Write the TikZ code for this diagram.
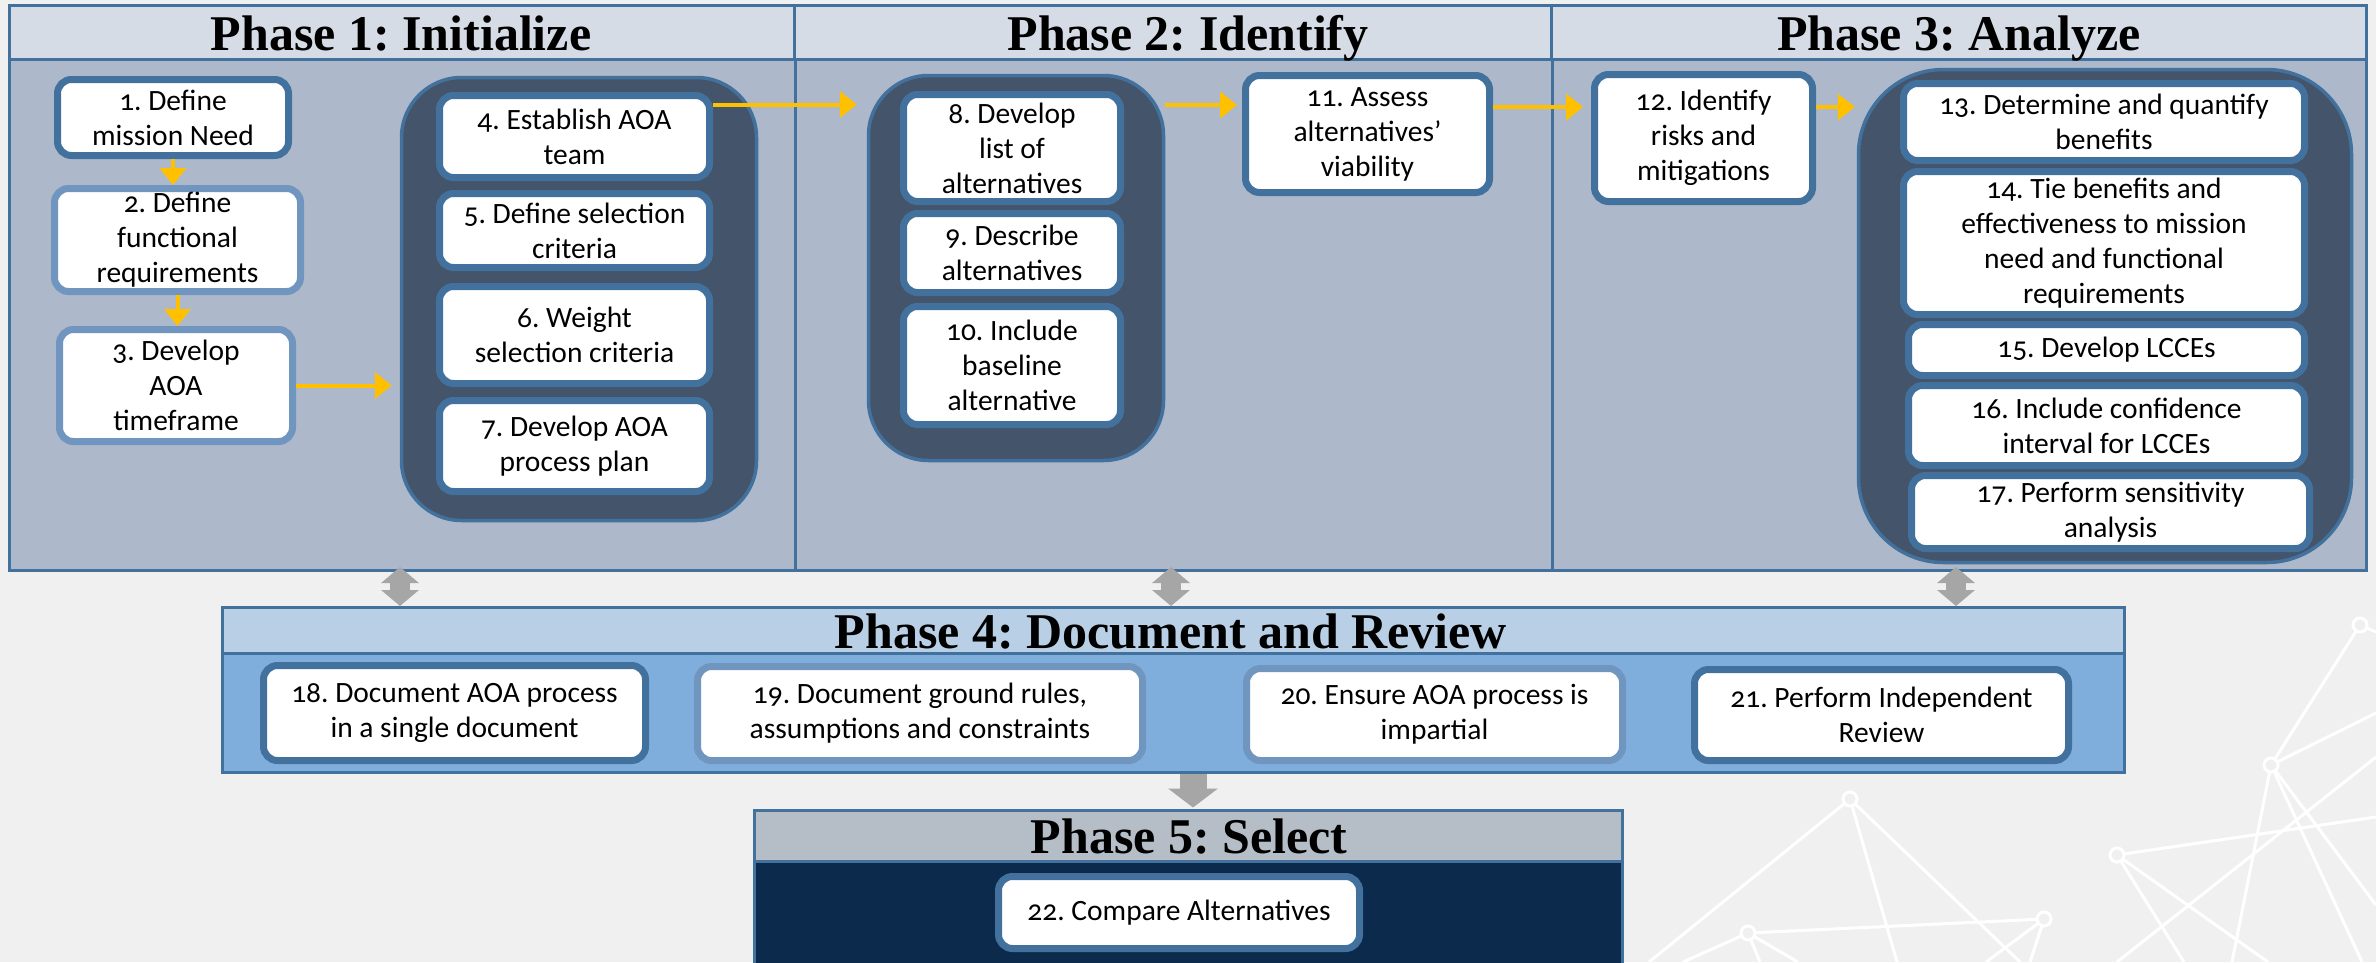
\documentclass[tikz,border=0pt]{standalone}
\usepackage{fontspec}
\usetikzlibrary{arrows.meta,calc}
\newfontfamily\bodyfont[Numbers=OldStyle]{Carlito}
\newfontfamily\hdrfont{Liberation Serif}
\definecolor{bgc}{HTML}{F0F0F0}
\definecolor{hdrc}{HTML}{D6DCE5}
\definecolor{bodyc}{HTML}{ADB9CA}
\definecolor{edge}{HTML}{41719C}
\definecolor{lightedge}{HTML}{7096C0}
\definecolor{grp}{HTML}{44546A}
\definecolor{yel}{HTML}{FFC000}
\definecolor{grayc}{HTML}{A6A6A6}
\definecolor{pfhdr}{HTML}{B8CFE6}
\definecolor{pfbody}{HTML}{7FAEDC}
\definecolor{pvhdr}{HTML}{B5BDC7}
\definecolor{pvbody}{HTML}{0B2A4C}
\frenchspacing
\begin{document}
\begin{tikzpicture}[x=1pt,y=-1pt,
  stepbox/.style={draw=edge, line width=7pt, fill=white, rounded corners=14pt,
    align=center, inner sep=0pt, text=black,
    font={\bodyfont\fontsize{29.5}{35}\selectfont}},
  lightbox/.style={stepbox, draw=lightedge},
  group/.style={draw=edge, line width=3.5pt, fill=grp, inner sep=0pt},
  panel/.style={draw=edge, line width=3pt, inner sep=0pt},
  ptitle/.style={anchor=base, inner sep=0pt, text=black,
    font={\hdrfont\bfseries\fontsize{50}{55}\selectfont\frenchspacing}},
  ya/.style={draw=yel, line width=4pt, -{Triangle[length=17pt,width=26pt]}},
  garrow/.style={draw=grayc, line width=20pt,
    {Triangle[length=16pt,width=37pt]}-{Triangle[length=16pt,width=37pt]}},
  darrow/.style={draw=grayc, line width=27pt, -{Triangle[length=19pt,width=49pt]}},
  net/.style={draw=white, line width=3pt},
  netdot/.style={draw=white, line width=3pt, fill=bgc}
]
\useasboundingbox (0,0) rectangle (2376,962);
\fill[bgc] (0,0) rectangle (2376,962);

% background network decoration
\draw[net] (2360,625) -- (2271,765);
\draw[net] (2360,625) -- (2376,632);
\draw[net] (2271,765) -- (2376,713);
\draw[net] (2271,765) -- (2232,962);
\draw[net] (2271,765) -- (2376,905);
\draw[net] (2271,765) -- (2362,962);
\draw[net] (2376,757) -- (2117,962);
\draw[net] (2117,855) -- (2376,817);
\draw[net] (2117,855) -- (2184,962);
\draw[net] (2117,855) -- (2268,962);
\draw[net] (1850,799) -- (1649,962);
\draw[net] (1850,799) -- (1897,962);
\draw[net] (1850,799) -- (2020,962);
\draw[net] (1748,933) -- (2044,919);
\draw[net] (1748,933) -- (1683,962);
\draw[net] (1748,933) -- (1760,962);
\draw[net] (1748,933) -- (1798,962);
\draw[net] (2044,919) -- (1986,962);
\draw[net] (2044,919) -- (2030,962);
\foreach \p in {(2360,625),(2271,765),(2117,855),(1850,799),(1748,933),(2044,919)}
  \draw[netdot] \p circle (7pt);

% top panel
\node[panel, fill=bodyc, minimum width=2357pt, minimum height=565pt] (top) at (1187.5,287.5) {};
\node[panel, fill=hdrc, minimum width=785pt, minimum height=54pt] (h1) at (401.5,32) {};
\node[panel, fill=hdrc, minimum width=757pt, minimum height=54pt] (h2) at (1172.5,32) {};
\node[panel, fill=hdrc, minimum width=815pt, minimum height=54pt] (h3) at (1958.5,32) {};
\draw[edge, line width=3pt] (h1.south east) -- (h1.south east |- top.south);
\draw[edge, line width=3pt] (h2.south east) -- (h2.south east |- top.south);
\node[ptitle] (t1) at (401,50) {Phase 1: Initialize};
\node[ptitle] (t2) at (1188,50) {Phase 2: Identify};
\node[ptitle] (t3) at (1959,50) {Phase 3: Analyze};

% Phase 1
\node[stepbox, minimum width=231pt, minimum height=76pt] (n1) at (173,117.5) {1. Define\\mission Need};
\node[lightbox, minimum width=246pt, minimum height=103pt] (n2) at (177.5,240) {2. Define\\functional\\requirements};
\node[lightbox, minimum width=233pt, minimum height=112pt] (n3) at (176,385.5) {3. Develop\\AOA\\timeframe};
\node[group, rounded corners=60pt, minimum width=355pt, minimum height=443pt] (g1) at (579,299) {};
\node[stepbox, minimum width=270pt, minimum height=82pt] (n4) at (574.5,136.5) {4. Establish AOA\\team};
\node[stepbox, minimum width=270pt, minimum height=74pt] (n5) at (574.5,230.5) {5. Define selection\\criteria};
\node[stepbox, minimum width=270pt, minimum height=97pt] (n6) at (574.5,335) {6. Weight\\selection criteria};
\node[stepbox, minimum width=270pt, minimum height=91pt] (n7) at (574.5,446) {7. Develop AOA\\process plan};

% Phase 2
\node[group, rounded corners=60pt, minimum width=295pt, minimum height=385pt] (g2) at (1016,268) {};
\node[stepbox, minimum width=217pt, minimum height=107pt] (n8) at (1012,148) {8. Develop\\list of\\alternatives};
\node[stepbox, minimum width=217pt, minimum height=79pt] (n9) at (1012,253) {9. Describe\\alternatives};
\node[stepbox, minimum width=217pt, minimum height=118pt] (n10) at (1012,365.5) {10. Include\\baseline\\alternative};
\node[stepbox, minimum width=244pt, minimum height=117pt] (n11) at (1367.5,134) {11. Assess\\alternatives’\\viability};

% Phase 3
\node[stepbox, minimum width=218pt, minimum height=127pt] (n12) at (1703.5,138) {12. Identify\\risks and\\mitigations};
\node[group, rounded corners=85pt, minimum width=493pt, minimum height=493pt] (g3) at (2105,316) {};
\node[stepbox, minimum width=401pt, minimum height=77pt] (n13) at (2104,122) {13. Determine and quantify\\benefits};
\node[stepbox, minimum width=401pt, minimum height=143pt] (n14) at (2104,243) {14. Tie benefits and\\effectiveness to mission\\need and functional\\requirements};
\node[stepbox, minimum width=396pt, minimum height=51pt] (n15) at (2106.5,350) {15. Develop LCCEs};
\node[stepbox, minimum width=396pt, minimum height=80pt] (n16) at (2106.5,425.5) {16. Include confidence\\interval for LCCEs};
\node[stepbox, minimum width=398pt, minimum height=73pt] (n17) at (2110.5,512) {17. Perform sensitivity\\analysis};

% yellow arrows
\draw[ya] (n1.south) -- (n1.south |- n2.north);
\draw[ya] (n2.south) -- (n2.south |- n3.north);
\draw[ya] (n3.east) -- ([xshift=-8pt]n3.east -| g1.west);
\draw[ya] ([yshift=32pt]n4.east) -- ([yshift=32pt,xshift=-10pt]n4.east -| g2.west);
\draw[ya] ([yshift=29pt]n11.west -| g2.east) -- ([yshift=29pt,xshift=-5pt]n11.west);
\draw[ya] ([yshift=27pt]n11.east) -- ([yshift=31pt,xshift=-8pt]n12.west);
\draw[ya] ([yshift=31pt]n12.east) -- ([yshift=31pt,xshift=-2pt]n12.east -| g3.west);

% Phase 4
\node[panel, fill=pfbody, minimum width=1902pt, minimum height=165pt] (p4) at (1173,689.5) {};
\node[panel, fill=pfhdr, minimum width=1902pt, minimum height=46pt] (p4h) at (1173,630) {};
\node[ptitle] (t4) at (1171,648) {Phase 4: Document and Review};
\node[stepbox, minimum width=382pt, minimum height=95pt] (n18) at (454.5,713) {18. Document AOA process\\in a single document};
\node[lightbox, minimum width=445pt, minimum height=94pt] (n19) at (920,713.5) {19. Document ground rules,\\assumptions and constraints};
\node[lightbox, minimum width=376pt, minimum height=92pt] (n20) at (1434.5,714.5) {20. Ensure AOA process is\\impartial};
\node[stepbox, minimum width=374pt, minimum height=91pt] (n21) at (1881.5,715) {21. Perform Independent\\Review};

% Phase 5
\node[panel, fill=pvbody, minimum width=868pt, minimum height=170pt] (p5) at (1188,895) {};
\node[panel, fill=pvhdr, minimum width=868pt, minimum height=51pt] (p5h) at (1188,835.5) {};
\node[ptitle] (t5) at (1189,853) {Phase 5: Select};
\node[stepbox, minimum width=361pt, minimum height=72pt] (n22) at (1179,912.5) {22. Compare Alternatives};

% gray connectors
\coordinate (a1t) at (400,567);  \coordinate (a1b) at (400,606);
\coordinate (a2t) at (1171,567); \coordinate (a2b) at (1171,606);
\coordinate (a3t) at (1956,567); \coordinate (a3b) at (1956,606);
\draw[garrow] (a1t) -- (a1b);
\draw[garrow] (a2t) -- (a2b);
\draw[garrow] (a3t) -- (a3b);
\draw[darrow] ([xshift=20pt]p4.south) -- ([xshift=20pt,yshift=1pt]p4.south |- p5h.north);
\end{tikzpicture}
\end{document}
